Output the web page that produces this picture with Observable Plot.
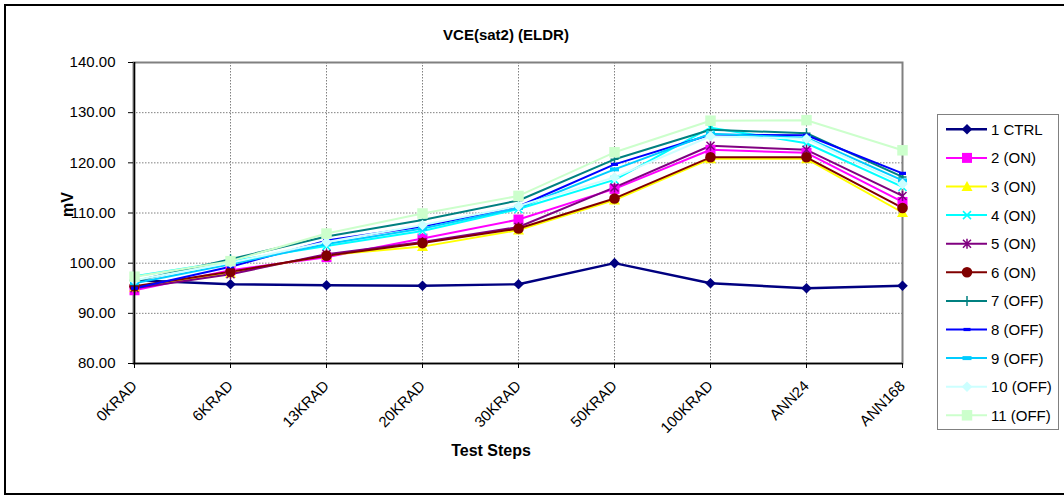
<!DOCTYPE html>
<html><head><meta charset="utf-8">
<script src="https://cdn.jsdelivr.net/npm/d3@7"></script>
<script src="https://cdn.jsdelivr.net/npm/@observablehq/plot@0.6"></script>
<style>
html,body{margin:0;padding:0;background:#fff;}
#wrap{position:relative;width:1064px;height:504px;overflow:hidden;font-family:"Liberation Sans",Arial,sans-serif;}
#border{position:absolute;left:4px;top:4px;width:1070px;height:491px;border:2px solid #000;box-sizing:border-box;pointer-events:none;}
#legend{position:absolute;left:0;top:0;pointer-events:none;}
</style></head><body><div id="wrap"><div id="border"></div></div>
<script>
const steps = ["0KRAD","6KRAD","13KRAD","20KRAD","30KRAD","50KRAD","100KRAD","ANN24","ANN168"];
const yTicks = [80, 90, 100, 110, 120, 130, 140];
const seriesNames = ["1 CTRL","2 (ON)","3 (ON)","4 (ON)","5 (ON)","6 (ON)","7 (OFF)","8 (OFF)","9 (OFF)","10 (OFF)","11 (OFF)"];
const seriesColors = ["#000080","#FF00FF","#FFFF00","#00FFFF","#800080","#800000","#008080","#0000FF","#00CCFF","#CCFFFF","#CCFFCC"];
const s1  = [96.6, 95.8, 95.6, 95.5, 95.8, 100.0, 96.0, 95.0, 95.5];
const s2  = [94.6, 98.6, 101.2, 104.9, 108.7, 114.8, 122.6, 122.0, 112.2];
const s3  = [95.2, 98.0, 101.6, 103.3, 106.6, 112.6, 120.8, 120.8, 110.1];
const s4  = [97.4, 100.4, 103.4, 106.4, 110.8, 116.6, 127.0, 123.9, 115.2];
const s5  = [95.0, 97.8, 101.8, 104.2, 107.2, 115.1, 123.4, 122.6, 113.4];
const s6  = [95.4, 98.3, 101.5, 104.0, 106.9, 112.9, 121.1, 121.1, 111.0];
const s7  = [96.4, 100.8, 105.3, 108.6, 112.5, 120.7, 126.6, 125.9, 117.2];
const s8  = [95.0, 99.3, 104.5, 107.3, 111.3, 119.7, 125.6, 125.5, 117.9];
const s9  = [96.0, 99.8, 103.8, 106.9, 111.0, 118.7, 125.8, 125.0, 116.5];
const s10 = [96.6, 100.1, 104.2, 107.6, 111.4, 117.1, 125.3, 124.8, 115.8];
const s11 = [97.3, 100.4, 105.9, 109.9, 113.4, 122.1, 128.4, 128.5, 122.5];
const allValues = [s1,s2,s3,s4,s5,s6,s7,s8,s9,s10,s11];

// marker drawing functions (fixed pixel sizes, like Excel markers)
const shapes = [
  {filled:true,  draw(c){const h=5.3;c.moveTo(0,-h);c.lineTo(h,0);c.lineTo(0,h);c.lineTo(-h,0);c.closePath();}},
  {filled:true,  draw(c){const s=10;c.rect(-s/2,-s/2,s,s);}},
  {filled:true,  draw(c){c.moveTo(0,-5.5);c.lineTo(5.5,4.5);c.lineTo(-5.5,4.5);c.closePath();}},
  {filled:false, draw(c){const a=4;c.moveTo(-a,-a);c.lineTo(a,a);c.moveTo(-a,a);c.lineTo(a,-a);}},
  {filled:false, draw(c){const a=4;c.moveTo(-a,-a);c.lineTo(a,a);c.moveTo(-a,a);c.lineTo(a,-a);c.moveTo(0,-5);c.lineTo(0,5);}},
  {filled:true,  draw(c){const r=5.3;c.moveTo(r,0);c.arc(0,0,r,0,2*Math.PI);c.closePath();}},
  {filled:false, draw(c){c.moveTo(0,-5);c.lineTo(0,5);c.moveTo(-4,0);c.lineTo(4,0);}},
  {filled:true,  draw(c){c.rect(-3.5,-1.6,7,3.2);}},
  {filled:true,  draw(c){c.rect(-4.5,-2,9,4);}},
  {filled:true,  draw(c){const h=5.3;c.moveTo(0,-h);c.lineTo(h,0);c.lineTo(0,h);c.lineTo(-h,0);c.closePath();}},
  {filled:true,  draw(c){const s=10.5;c.rect(-s/2,-s/2,s,s);}}
];

const rows = [];
allValues.forEach((vals, k) => vals.forEach((v, i) => rows.push({series: seriesNames[k], k, step: steps[i], value: v})));

const font = "Liberation Sans, Arial, sans-serif";
const marks = [
  Plot.gridY(yTicks, {stroke:"#808080", strokeOpacity:1, strokeWidth:1, strokeDasharray:"1.5,1.5"}),
  Plot.gridX(steps, {stroke:"#808080", strokeOpacity:1, strokeWidth:1, strokeDasharray:"1.5,1.5"}),
  Plot.frame({stroke:"#808080", strokeWidth:2})
];
seriesNames.forEach((name, k) => {
  const data = rows.filter(d => d.k === k);
  marks.push(Plot.line(data, {x:"step", y:"value", stroke: seriesColors[k], strokeWidth: k === 0 ? 2.4 : 2}));
});
seriesNames.forEach((name, k) => {
  const data = rows.filter(d => d.k === k);
  const sh = shapes[k];
  const sym = {draw: (c, size) => sh.draw(c)};
  marks.push(Plot.dot(data, sh.filled
    ? {x:"step", y:"value", symbol: sym, fill: seriesColors[k], stroke: "none", r: 4}
    : {x:"step", y:"value", symbol: sym, fill: "none", stroke: seriesColors[k], strokeWidth: 1.5, r: 4}));
});
marks.push(
  Plot.ruleX([steps[0]], {stroke:"#000", strokeWidth:1.6}),
  Plot.ruleY([80], {stroke:"#000", strokeWidth:1.6}),
  Plot.axisY({ticks: yTicks, tickSize: 5, tickPadding: 13, tickFormat: d => d.toFixed(2), label: null, fontSize: 15, fontFamily: font, fill:"#000", stroke:"#000"}),
  Plot.axisX({tickSize: 5, tickRotate: -45, tickPadding: 15, label: null, fontSize: 15, fontFamily: font, fill:"#000", stroke:"#000"}),
  Plot.text(["VCE(sat2) (ELDR)"], {frameAnchor:"top", dx:-12, dy:-33, fontSize:15, fontWeight:"bold", fontFamily: font, fill:"#000"}),
  Plot.text(["Test Steps"], {frameAnchor:"bottom", dx:-27, dy:92, fontSize:16, fontWeight:"bold", fontFamily: font, fill:"#000"}),
  Plot.text(["mV"], {frameAnchor:"left", rotate:-90, dx:-66, dy:4, fontSize:16, fontWeight:"bold", fontFamily: font, fill:"#000"})
);

const chart = Plot.plot({
  width: 1064, height: 504,
  marginLeft: 133, marginRight: 162, marginTop: 62, marginBottom: 141,
  x: {type: "point", domain: steps, padding: 0},
  y: {domain: [80, 140]},
  style: {background: "transparent", color: "#000", fontFamily: font},
  marks
});
chart.style.position = "absolute"; chart.style.left = "0px"; chart.style.top = "0px";
const wrap = document.getElementById("wrap");
wrap.insertBefore(chart, wrap.firstChild);

// legend
const lg = d3.select(wrap).append("svg").attr("id","legend").attr("width",1064).attr("height",504);
lg.append("rect").attr("x",937.5).attr("y",114.5).attr("width",121).attr("height",315)
  .attr("fill","#fff").attr("stroke","#808080").attr("stroke-width",1);
seriesNames.forEach((name, k) => {
  const y = 129.3 + k * 28.6;
  const g = lg.append("g");
  g.append("line").attr("x1",946).attr("x2",987).attr("y1",y).attr("y2",y)
    .attr("stroke",seriesColors[k]).attr("stroke-width", k === 0 ? 2.4 : 2);
  const p = d3.path(); shapes[k].draw(p);
  g.append("path").attr("d", p.toString()).attr("transform",`translate(967,${y})`)
    .attr("fill", shapes[k].filled ? seriesColors[k] : "none")
    .attr("stroke", shapes[k].filled ? "none" : seriesColors[k]).attr("stroke-width",1.5);
  g.append("text").attr("x",991).attr("y",y).attr("dy","0.36em").attr("font-size",15)
    .attr("font-family",font).attr("fill","#000").text(name);
});
</script></body></html>
